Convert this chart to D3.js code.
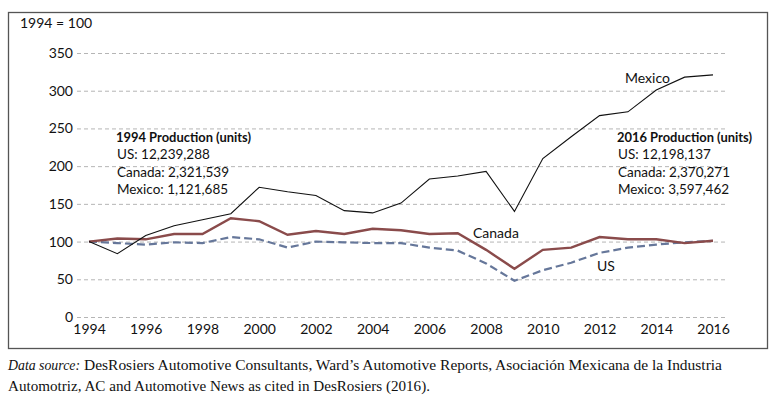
<!DOCTYPE html>
<html>
<head>
<meta charset="utf-8">
<script src="https://cdn.jsdelivr.net/npm/d3@7"></script>
<style>
  body { margin: 0; background: #fff; }
  svg text { font-family: Lato, "Noto Sans", sans-serif; fill: #111; }
  .note { font-size: 14px; }
  .src { font-family: "Liberation Serif", serif; font-size: 14.5px; }
</style>
</head>
<body>
<svg width="780" height="399"></svg>
<script>
// data, index 1994 = 100
const years = d3.range(1994, 2017);
const mexico = [100, 84, 108, 121, 129, 137, 172, 166, 161, 141, 138, 151, 183, 187, 193, 140, 210, 239, 267, 272, 301, 318, 321];
const canada = [100, 104, 103, 110, 110, 131, 127, 109, 114, 110, 117, 115, 110, 111, 89, 64, 89, 92, 106, 103, 103, 98, 101];
const us = [100, 98, 96, 99, 98, 106, 103, 92, 100, 99, 98, 98, 92, 88, 71, 48, 62, 72, 85, 92, 96, 99, 101];
const yTicks = [0, 50, 100, 150, 200, 250, 300, 350];
const xTicks = d3.range(1994, 2017, 2);

const notes1994 = ["US: 12,239,288", "Canada: 2,321,539", "Mexico: 1,121,685"];
const notes2016 = ["US: 12,198,137", "Canada: 2,370,271", "Mexico: 3,597,462"];

const svg = d3.select("svg");

const x = d3.scaleLinear().domain([1994, 2016]).range([89, 713]);
const y = d3.scaleLinear().domain([0, 350]).range([317, 53]);

// frame
svg.append("rect")
  .attr("x", 8.5).attr("y", 12.5)
  .attr("width", 759).attr("height", 336)
  .attr("fill", "none").attr("stroke", "#555").attr("stroke-width", 1.3);

// gridlines + y labels
const yAxis = d3.axisLeft(y).tickValues(yTicks).tickSize(-651).tickPadding(4);
const gy = svg.append("g").attr("transform", "translate(77,0)").call(yAxis);
gy.select(".domain").remove();
gy.selectAll(".tick line")
  .attr("stroke", "#b5b5b5").attr("stroke-dasharray", "4,3").attr("stroke-width", 1);
gy.selectAll(".tick text")
  .attr("x", -4).style("font-size", "14px").style("font-family", "Lato, sans-serif").attr("fill", "#111");

// x labels
const xAxis = d3.axisBottom(x).tickValues(xTicks).tickFormat(d3.format("d")).tickSize(0).tickPadding(0);
const gx = svg.append("g").attr("transform", "translate(0,321)").call(xAxis);
gx.select(".domain").remove();
gx.selectAll(".tick text")
  .attr("dy", "0.95em").style("font-size", "14px").style("font-family", "Lato, sans-serif").attr("fill", "#111");

const line = d3.line().x((d, i) => x(years[i])).y(d => y(d));

svg.append("path").datum(us).attr("d", line)
  .attr("fill", "none").attr("stroke", "#66779a").attr("stroke-width", 2.2)
  .attr("stroke-dasharray", "8,4");
svg.append("path").datum(canada).attr("d", line)
  .attr("fill", "none").attr("stroke", "#8a4b4b").attr("stroke-width", 2.4);
svg.append("path").datum(mexico).attr("d", line)
  .attr("fill", "none").attr("stroke", "#111").attr("stroke-width", 1.1);

// labels
svg.append("text").attr("class", "note").attr("x", 20).attr("y", 28).text("1994 = 100");
svg.append("text").attr("class", "note").attr("x", 625).attr("y", 83).text("Mexico");
svg.append("text").attr("class", "note").attr("x", 473).attr("y", 238).text("Canada");
svg.append("text").attr("class", "note").attr("x", 597).attr("y", 271).text("US");

function block(x0, title, rows) {
  svg.append("text").attr("class", "note").attr("x", x0).attr("y", 142)
    .style("font-weight", "bold").style("font-size", "13.5px")
    .attr("textLength", 135).attr("lengthAdjust", "spacingAndGlyphs").text(title);
  rows.forEach((r, i) => {
    svg.append("text").attr("class", "note").attr("x", x0 + 1).attr("y", 159 + i * 17.5)
      .style("font-size", "13.5px").text(r);
  });
}
block(116, "1994 Production (units)", notes1994);
block(617, "2016 Production (units)", notes2016);

// source
svg.append("text").attr("class", "src").attr("x", 8).attr("y", 370)
  .style("font-style", "italic")
  .attr("textLength", 72).attr("lengthAdjust", "spacingAndGlyphs")
  .text("Data source:");
svg.append("text").attr("class", "src").attr("x", 84).attr("y", 370)
  .attr("textLength", 638).attr("lengthAdjust", "spacingAndGlyphs")
  .text("DesRosiers Automotive Consultants, Ward\u2019s Automotive Reports, Asociación Mexicana de la Industria");
svg.append("text").attr("class", "src").attr("x", 8).attr("y", 391)
  .attr("textLength", 422).attr("lengthAdjust", "spacingAndGlyphs")
  .text("Automotriz, AC and Automotive News as cited in DesRosiers (2016).");
</script>
</body>
</html>
